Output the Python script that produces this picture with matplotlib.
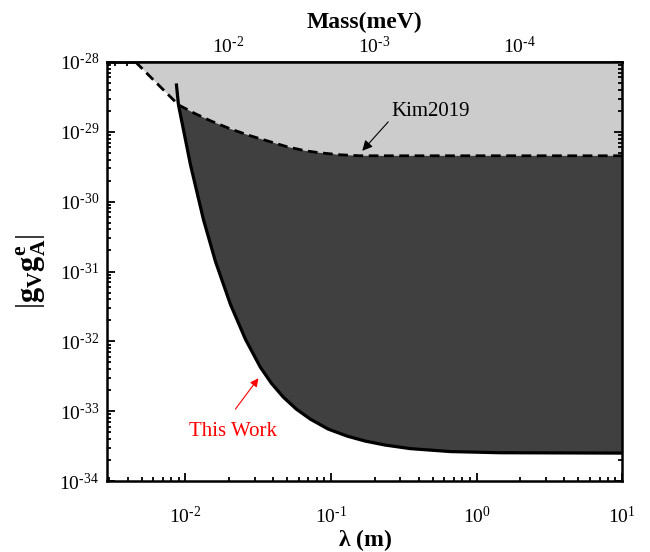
import numpy as np
import matplotlib
matplotlib.use("Agg")
import matplotlib.pyplot as plt
from matplotlib.ticker import FixedLocator, FuncFormatter, NullFormatter

plt.rcParams['font.family'] = ['Liberation Serif', 'DejaVu Serif']
plt.rcParams['mathtext.fontset'] = 'custom'
plt.rcParams['mathtext.rm'] = 'Liberation Serif'
plt.rcParams['mathtext.it'] = 'Liberation Serif:italic'
plt.rcParams['mathtext.bf'] = 'Liberation Serif:bold'

# Kim2019 limit (dashed)
kim_lambda = [4.54e-3, 5.75e-3, 7.06e-3, 8.95e-3, 1.172e-2, 1.485e-2, 2.037e-2, 2.792e-2,
              3.833e-2, 5.01e-2, 6.67e-2, 8.45e-2, 0.1159, 0.159, 10.0]
kim_g = [1.0e-28, 6.1e-29, 3.98e-29, 2.43e-29, 1.81e-29, 1.44e-29, 1.10e-29, 8.77e-30,
         7.2e-30, 6.1e-30, 5.35e-30, 5.0e-30, 4.69e-30, 4.54e-30, 4.54e-30]

# This Work limit (solid)
tw_lambda = [8.67e-3, 8.95e-3, 1.082e-2, 1.329e-2, 1.607e-2, 2.037e-2, 2.582e-2, 3.272e-2,
             3.893e-2, 4.706e-2, 5.777e-2, 7.209e-2, 9.583e-2, 0.1294, 0.1719, 0.2359,
             0.3501, 0.6588, 1.452, 10.0]
tw_g = [4.68e-29, 2.43e-29, 3.38e-30, 5.53e-31, 1.39e-31, 3.38e-32, 1.07e-32, 4.25e-33,
        2.51e-33, 1.585e-33, 1.07e-33, 7.69e-34, 5.53e-34, 4.39e-34, 3.73e-34, 3.27e-34,
        2.91e-34, 2.64e-34, 2.54e-34, 2.51e-34]

x_lim = (2.9e-3, 10.0)
y_lim = (1e-34, 1e-28)
x_ticks = [1e-2, 1e-1, 1e0, 1e1]
y_ticks = [1e-34, 1e-33, 1e-32, 1e-31, 1e-30, 1e-29, 1e-28]
mass_ticks = [1e-2, 1e-3, 1e-4]
hbar_c = 1.973e-4  # meV * m


def pow_fmt(v, pos=None):
    e = int(round(np.log10(v)))
    s = str(abs(e))
    sign = '\u2010' if e < 0 else ''
    return r'$\mathregular{10^{' + sign + s + '}}$'


fig = plt.figure(figsize=(6.5, 5.52), dpi=100)
ax = fig.add_axes([0.165, 0.1286, 0.792, 0.7591])
ax.set_xscale('log')
ax.set_yscale('log')
ax.set_xlim(*x_lim)
ax.set_ylim(*y_lim)

# light region above Kim2019
lx = kim_lambda + [kim_lambda[-1], kim_lambda[0]]
ly = kim_g + [y_lim[1], y_lim[1]]
ax.fill(lx, ly, color='#cccccc', lw=0, zorder=1)

# dark region between This Work and Kim2019
dx = tw_lambda[1:] + kim_lambda[::-1][:-4]
dy = tw_g[1:] + kim_g[::-1][:-4]
ax.fill(dx, dy, color='#404040', lw=0, zorder=2)

ax.plot(kim_lambda, kim_g, color='black', lw=2, ls=(0, (3.5, 2)), zorder=3)
ax.plot(tw_lambda, tw_g, color='black', lw=2.3, zorder=4, solid_joinstyle='round')

ax.text(0.481, 1.93e-29, 'Kim2019', fontsize=15, ha='center', va='center')
ax.annotate('', xy=(0.164, 5.35e-30), xytext=(0.2473, 1.39e-29),
            arrowprops=dict(arrowstyle='-|>', color='black', lw=0.8,
                            mutation_scale=15, shrinkA=0, shrinkB=0))
ax.text(0.02135, 5.18e-34, 'This Work', fontsize=15, ha='center', va='center', color='red')
ax.annotate('', xy=(0.0317, 2.96e-33), xytext=(0.02203, 1.07e-33),
            arrowprops=dict(arrowstyle='-|>', color='red', lw=0.8,
                            mutation_scale=12, shrinkA=0, shrinkB=0))

for s in ax.spines.values():
    s.set_linewidth(1.8)
    s.set_zorder(6)
ax.tick_params(which='both', direction='in', top=False, right=True, labelsize=14, width=1.3)
ax.tick_params(which='major', length=6)
ax.tick_params(which='minor', length=3)
ax.xaxis.set_major_locator(FixedLocator(x_ticks))
ax.xaxis.set_major_formatter(FuncFormatter(pow_fmt))
ax.yaxis.set_major_locator(FixedLocator(y_ticks))
ax.yaxis.set_major_formatter(FuncFormatter(pow_fmt))
ax.yaxis.set_minor_locator(matplotlib.ticker.LogLocator(base=10, subs=np.arange(2, 10), numticks=20))
ax.yaxis.set_minor_formatter(NullFormatter())
ax.xaxis.set_minor_formatter(NullFormatter())
ax.tick_params(axis='x', pad=18)
ax.tick_params(axis='y', pad=6)

ax.set_xlabel(r'$\mathbf{\lambda}$ $\mathbf{(m)}$', fontsize=17, labelpad=0)
ax.set_ylabel(r'$|\mathbf{g}_{\mathbf{V}}\mathbf{g}_{\mathbf{A}}^{\mathbf{e}}|$', fontsize=22, labelpad=8)

sec = ax.secondary_xaxis('top', functions=(lambda x: hbar_c / np.asarray(x),
                                           lambda m: hbar_c / np.asarray(m)))
sec.tick_params(which='both', direction='in', labelsize=14, width=1.3)
sec.tick_params(which='major', length=6)
sec.tick_params(which='minor', length=3)
sec.xaxis.set_major_locator(FixedLocator(mass_ticks))
sec.xaxis.set_major_formatter(FuncFormatter(pow_fmt))
sec.xaxis.set_minor_formatter(NullFormatter())
sec.spines['top'].set_linewidth(1.8)
sec.set_xlabel('Mass(meV)', fontsize=17, fontweight='bold', labelpad=6)

fig.savefig('out.png', dpi=100)
